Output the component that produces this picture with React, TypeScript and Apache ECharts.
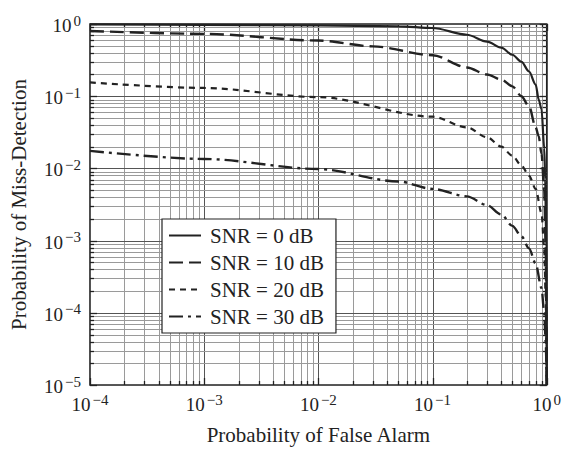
import React, { useEffect, useRef } from "react";
import * as echarts from "echarts";

// ---- data ----
const seriesNames = ["SNR = 0 dB", "SNR = 10 dB", "SNR = 20 dB", "SNR = 30 dB"];

const pfa0 = [1e-4, 1e-3, 1e-2, 0.05, 0.1, 0.2, 0.3, 0.4, 0.5, 0.6, 0.7, 0.8, 0.85, 0.9, 0.95, 0.97, 0.99, 0.999];
const pmd0 = [0.985, 0.975, 0.955, 0.93, 0.88, 0.71, 0.57, 0.47, 0.375, 0.3, 0.22, 0.145, 0.09, 0.066, 0.019, 0.007, 0.00078, 0.00001];

const pfa10 = [1e-4, 1e-3, 1e-2, 0.03, 0.1, 0.2, 0.3, 0.4, 0.5, 0.6, 0.7, 0.8, 0.85, 0.9, 0.95, 0.98, 0.995, 0.9995];
const pmd10 = [0.8, 0.73, 0.59, 0.49, 0.37, 0.25, 0.2, 0.17, 0.137, 0.1, 0.072, 0.037, 0.028, 0.016, 0.005, 0.00078, 0.00006, 0.00001];

const pfa20 = [1e-4, 1e-3, 1e-2, 0.1, 0.2, 0.3, 0.4, 0.5, 0.6, 0.7, 0.8, 0.9, 0.95, 0.98, 0.995, 0.9995];
const pmd20 = [0.155, 0.13, 0.097, 0.052, 0.037, 0.027, 0.02, 0.015, 0.011, 0.0079, 0.0052, 0.0024, 0.00078, 0.00016, 0.000024, 0.00001];

const pfa30 = [1e-4, 1e-3, 1e-2, 0.05, 0.1, 0.2, 0.3, 0.4, 0.5, 0.6, 0.7, 0.8, 0.9, 0.95, 0.98, 0.9995];
const pmd30 = [0.0175, 0.0135, 0.0098, 0.0066, 0.0052, 0.0041, 0.0031, 0.0023, 0.0016, 0.00115, 0.00078, 0.00048, 0.00022, 0.0001, 0.000039, 0.00001];

const xDecades = [-4, -3, -2, -1, 0];
const yDecades = [-5, -4, -3, -2, -1, 0];
const minorMultipliers = [2, 3, 4, 5, 6, 7, 8, 9];

const FONT = "Liberation Serif";
const INK = "#222";

function zip(xs: number[], ys: number[]) {
  return xs.map((x, i) => [x, ys[i]]);
}

function gridValues(decades: number[]) {
  const out: number[][] = [];
  decades.forEach((d, i) => {
    out.push([Math.pow(10, d), 1]);
    if (i < decades.length - 1) {
      minorMultipliers.forEach((m) => out.push([m * Math.pow(10, d), 0]));
    }
  });
  return out;
}

function expLabel(value: number) {
  const e = Math.round(Math.log10(value));
  const s = e < 0 ? "\u2212" + Math.abs(e) : String(e);
  return "{b|10}{s|" + s + "}";
}

const richStyle = {
  b: { fontFamily: FONT, fontSize: 19, color: INK, lineHeight: 22, verticalAlign: "bottom" },
  s: { fontFamily: FONT, fontSize: 15, color: INK, lineHeight: 22, verticalAlign: "top", padding: [0, 0, 0, 2] },
};

export default function App() {
  const ref = useRef<HTMLDivElement>(null);
  useEffect(() => {
    if (!ref.current) return;
    const chart = echarts.init(ref.current, undefined, { renderer: "svg" });

    const xGrid = gridValues(xDecades).map((v) => [v[0], 1e-5, v[1]]);
    const yGrid = gridValues(yDecades).map((v) => [1e-4, v[0], v[1]]);

    const lineCommon = {
      type: "line",
      symbol: "none",
      showSymbol: false,
      smooth: 0.3,
      smoothMonotone: "x",
      z: 5,
      color: INK,
    };

    const option: any = {
      animation: false,
      backgroundColor: "#fff",
      grid: {
        left: 82,
        right: 12,
        top: 24,
        bottom: 62,
        show: true,
        borderColor: INK,
        borderWidth: 1.6,
        backgroundColor: "transparent",
      },
      xAxis: {
        type: "log",
        logBase: 10,
        min: 1e-4,
        max: 1,
        name: "Probability of False Alarm",
        nameLocation: "middle",
        nameGap: 39,
        nameTextStyle: { fontFamily: FONT, fontSize: 21, color: INK },
        axisLine: { show: false },
        axisTick: { show: false },
        splitLine: { show: false },
        axisLabel: {
          formatter: expLabel,
          rich: richStyle,
          margin: 7,
          showMinLabel: true,
          showMaxLabel: true,
        },
      },
      yAxis: {
        type: "log",
        logBase: 10,
        min: 1e-5,
        max: 1,
        name: "Probability of Miss-Detection",
        nameLocation: "middle",
        nameGap: 61,
        nameTextStyle: { fontFamily: FONT, fontSize: 21, color: INK },
        axisLine: { show: false },
        axisTick: { show: false },
        splitLine: { show: false },
        axisLabel: {
          formatter: expLabel,
          rich: richStyle,
          margin: 9,
          showMinLabel: true,
          showMaxLabel: true,
        },
      },
      legend: {
        data: seriesNames,
        orient: "vertical",
        left: 162,
        top: 219,
        itemWidth: 32,
        itemHeight: 14,
        itemGap: 6,
        padding: [6, 12, 6, 6],
        backgroundColor: "#fff",
        borderColor: INK,
        borderWidth: 1.2,
        itemStyle: { color: "transparent", borderWidth: 0, opacity: 0 },
        textStyle: { fontFamily: FONT, fontSize: 21, color: INK, padding: [0, 0, 0, 4] },
        selectedMode: false,
      },
      series: [
        {
          type: "custom",
          name: "xgrid",
          silent: true,
          z: 1,
          data: xGrid,
          renderItem: (params: any, api: any) => {
            const cs = params.coordSys;
            const p = api.coord([api.value(0), api.value(1)]);
            const major = api.value(2) === 1;
            const x = Math.round(p[0]) + 0.5;
            const len = major ? 7 : 4;
            const yb = cs.y + cs.height;
            return {
              type: "group",
              children: [
                { type: "line", shape: { x1: x, y1: cs.y, x2: x, y2: yb }, style: { stroke: major ? "#555" : "#9a9a9a", lineWidth: 1 } },
                { type: "line", shape: { x1: x, y1: yb, x2: x, y2: yb - len }, style: { stroke: INK, lineWidth: 1.3 } },
                { type: "line", shape: { x1: x, y1: cs.y, x2: x, y2: cs.y + len }, style: { stroke: INK, lineWidth: 1.3 } },
              ],
            };
          },
        },
        {
          type: "custom",
          name: "ygrid",
          silent: true,
          z: 1,
          data: yGrid,
          renderItem: (params: any, api: any) => {
            const cs = params.coordSys;
            const p = api.coord([api.value(0), api.value(1)]);
            const major = api.value(2) === 1;
            const y = Math.round(p[1]) + 0.5;
            const len = major ? 7 : 4;
            const xr = cs.x + cs.width;
            return {
              type: "group",
              children: [
                { type: "line", shape: { x1: cs.x, y1: y, x2: xr, y2: y }, style: { stroke: major ? "#555" : "#9a9a9a", lineWidth: 1 } },
                { type: "line", shape: { x1: cs.x, y1: y, x2: cs.x + len, y2: y }, style: { stroke: INK, lineWidth: 1.3 } },
                { type: "line", shape: { x1: xr, y1: y, x2: xr - len, y2: y }, style: { stroke: INK, lineWidth: 1.3 } },
              ],
            };
          },
        },
        {
          ...lineCommon,
          name: seriesNames[0],
          data: zip(pfa0, pmd0),
          lineStyle: { color: INK, width: 2.2, type: "solid" },
        },
        {
          ...lineCommon,
          name: seriesNames[1],
          data: zip(pfa10, pmd10),
          lineStyle: { color: INK, width: 2.4, type: [14, 6] },
        },
        {
          ...lineCommon,
          name: seriesNames[2],
          data: zip(pfa20, pmd20),
          lineStyle: { color: INK, width: 2.2, type: [6, 5] },
        },
        {
          ...lineCommon,
          name: seriesNames[3],
          data: zip(pfa30, pmd30),
          lineStyle: { color: INK, width: 2.4, type: [14, 5, 3, 5] },
        },
      ],
    };
    chart.setOption(option);
    return () => chart.dispose();
  }, []);
  return <div ref={ref} style={{ width: 564, height: 450, position: "absolute", left: 0, top: 0 }} />;
}
